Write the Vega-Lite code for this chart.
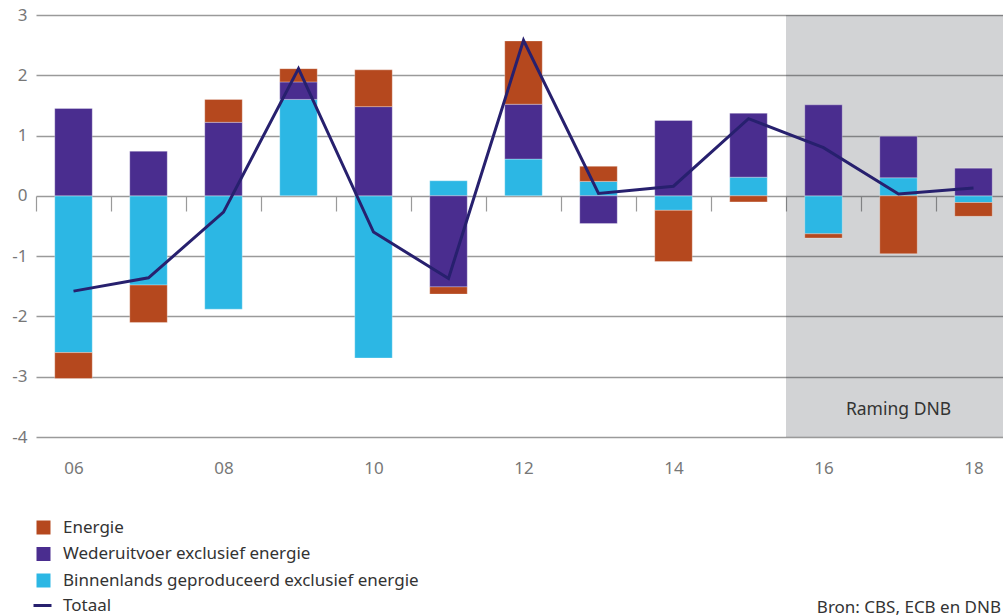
{
  "$schema": "https://vega.github.io/schema/vega-lite/v6.json",
  "width": 967,
  "height": 422,
  "autosize": "none",
  "padding": {"left": 36, "top": 15, "right": 0, "bottom": 178},
  "background": "white",
  "config": {
    "view": {"stroke": null},
    "font": "Noto Sans",
    "axis": {"labelFont": "Noto Sans"},
    "legend": {"labelFont": "Noto Sans"}
  },
  "title": {
    "text": "Bron: CBS, ECB en DNB",
    "orient": "bottom",
    "anchor": "end",
    "frame": "group",
    "fontSize": 17,
    "fontWeight": "normal",
    "color": "#333333",
    "baseline": "alphabetic",
    "offset": -1,
    "dx": -2
  },
  "datasets": {
    "bijdragen": [
      {"jaar": "06", "reeks": "Binnenlands geproduceerd exclusief energie", "waarde": -2.60},
      {"jaar": "06", "reeks": "Wederuitvoer exclusief energie", "waarde": 1.45},
      {"jaar": "06", "reeks": "Energie", "waarde": -0.43},
      {"jaar": "07", "reeks": "Binnenlands geproduceerd exclusief energie", "waarde": -1.48},
      {"jaar": "07", "reeks": "Wederuitvoer exclusief energie", "waarde": 0.74},
      {"jaar": "07", "reeks": "Energie", "waarde": -0.62},
      {"jaar": "08", "reeks": "Binnenlands geproduceerd exclusief energie", "waarde": -1.88},
      {"jaar": "08", "reeks": "Wederuitvoer exclusief energie", "waarde": 1.22},
      {"jaar": "08", "reeks": "Energie", "waarde": 0.38},
      {"jaar": "09", "reeks": "Binnenlands geproduceerd exclusief energie", "waarde": 1.60},
      {"jaar": "09", "reeks": "Wederuitvoer exclusief energie", "waarde": 0.29},
      {"jaar": "09", "reeks": "Energie", "waarde": 0.22},
      {"jaar": "10", "reeks": "Binnenlands geproduceerd exclusief energie", "waarde": -2.69},
      {"jaar": "10", "reeks": "Wederuitvoer exclusief energie", "waarde": 1.48},
      {"jaar": "10", "reeks": "Energie", "waarde": 0.61},
      {"jaar": "11", "reeks": "Binnenlands geproduceerd exclusief energie", "waarde": 0.25},
      {"jaar": "11", "reeks": "Wederuitvoer exclusief energie", "waarde": -1.51},
      {"jaar": "11", "reeks": "Energie", "waarde": -0.12},
      {"jaar": "12", "reeks": "Binnenlands geproduceerd exclusief energie", "waarde": 0.61},
      {"jaar": "12", "reeks": "Wederuitvoer exclusief energie", "waarde": 0.91},
      {"jaar": "12", "reeks": "Energie", "waarde": 1.05},
      {"jaar": "13", "reeks": "Binnenlands geproduceerd exclusief energie", "waarde": 0.24},
      {"jaar": "13", "reeks": "Wederuitvoer exclusief energie", "waarde": -0.46},
      {"jaar": "13", "reeks": "Energie", "waarde": 0.25},
      {"jaar": "14", "reeks": "Binnenlands geproduceerd exclusief energie", "waarde": -0.24},
      {"jaar": "14", "reeks": "Wederuitvoer exclusief energie", "waarde": 1.25},
      {"jaar": "14", "reeks": "Energie", "waarde": -0.85},
      {"jaar": "15", "reeks": "Binnenlands geproduceerd exclusief energie", "waarde": 0.31},
      {"jaar": "15", "reeks": "Wederuitvoer exclusief energie", "waarde": 1.06},
      {"jaar": "15", "reeks": "Energie", "waarde": -0.10},
      {"jaar": "16", "reeks": "Binnenlands geproduceerd exclusief energie", "waarde": -0.63},
      {"jaar": "16", "reeks": "Wederuitvoer exclusief energie", "waarde": 1.51},
      {"jaar": "16", "reeks": "Energie", "waarde": -0.07},
      {"jaar": "17", "reeks": "Binnenlands geproduceerd exclusief energie", "waarde": 0.30},
      {"jaar": "17", "reeks": "Wederuitvoer exclusief energie", "waarde": 0.69},
      {"jaar": "17", "reeks": "Energie", "waarde": -0.96},
      {"jaar": "18", "reeks": "Binnenlands geproduceerd exclusief energie", "waarde": -0.11},
      {"jaar": "18", "reeks": "Wederuitvoer exclusief energie", "waarde": 0.46},
      {"jaar": "18", "reeks": "Energie", "waarde": -0.23}
    ],
    "totaal": [
      {"jaar": "06", "waarde": -1.58},
      {"jaar": "07", "waarde": -1.36},
      {"jaar": "08", "waarde": -0.27},
      {"jaar": "09", "waarde": 2.11},
      {"jaar": "10", "waarde": -0.60},
      {"jaar": "11", "waarde": -1.37},
      {"jaar": "12", "waarde": 2.58},
      {"jaar": "13", "waarde": 0.04},
      {"jaar": "14", "waarde": 0.16},
      {"jaar": "15", "waarde": 1.28},
      {"jaar": "16", "waarde": 0.80},
      {"jaar": "17", "waarde": 0.03},
      {"jaar": "18", "waarde": 0.13}
    ],
    "raming": [
      {"jaar": "16"},
      {"jaar": "17"},
      {"jaar": "18"}
    ]
  },
  "encoding": {
    "x": {
      "field": "jaar",
      "type": "ordinal",
      "scale": {"range": [0, 975], "paddingInner": 0.5, "paddingOuter": 0.25},
      "axis": {
        "title": null,
        "orient": "bottom",
        "offset": -241,
        "domain": false,
        "grid": false,
        "ticks": true,
        "tickOffset": -37.5,
        "labelOffset": 37.5,
        "tickSize": 15,
        "tickColor": "#9a9a9a",
        "tickWidth": 1.2,
        "labelExpr": "parseInt(datum.value) % 2 == 0 ? datum.value : ''",
        "labelPadding": 249,
        "labelFontSize": 17,
        "labelColor": "#777777",
        "labelAngle": 0
      }
    }
  },
  "layer": [
    {
      "data": {"name": "raming"},
      "mark": {"type": "bar", "width": {"band": 2}, "fill": "#1e232d", "opacity": 0.2},
      "encoding": {
        "y": {"datum": 3},
        "y2": {"datum": -4}
      }
    },
    {
      "data": {"name": "bijdragen"},
      "transform": [
        {"calculate": "indexof(['Binnenlands geproduceerd exclusief energie', 'Wederuitvoer exclusief energie', 'Energie'], datum.reeks)", "as": "volgorde"}
      ],
      "mark": {"type": "bar", "stroke": "white", "strokeOpacity": 0.3, "strokeWidth": 1},
      "encoding": {
        "y": {
          "field": "waarde",
          "type": "quantitative",
          "stack": "zero",
          "scale": {"domain": [-4, 3], "nice": false, "zero": false},
          "axis": {
            "title": null,
            "values": [-4, -3, -2, -1, 0, 1, 2, 3],
            "labelExpr": "'' + datum.value",
            "domain": false,
            "ticks": false,
            "grid": true,
            "gridColor": "#9a9a9a",
            "gridWidth": 1.3,
            "labelFontSize": 17,
            "labelColor": "#777777",
            "labelPadding": 9
          }
        },
        "color": {
          "field": "reeks",
          "type": "nominal",
          "scale": {
            "domain": ["Energie", "Wederuitvoer exclusief energie", "Binnenlands geproduceerd exclusief energie"],
            "range": ["#b5481e", "#4a2d8f", "#2cb7e4"]
          },
          "legend": {
            "title": null,
            "orient": "none",
            "legendX": -1,
            "legendY": 504,
            "padding": 0,
            "symbolType": "square",
            "symbolSize": 196,
            "symbolStrokeWidth": 0,
            "labelFontSize": 17,
            "labelColor": "#333333",
            "labelOffset": 11,
            "labelLimit": 600,
            "rowPadding": 8.5
          }
        },
        "order": {"field": "volgorde", "type": "quantitative"}
      }
    },
    {
      "data": {"name": "totaal"},
      "mark": {"type": "line", "strokeWidth": 3},
      "encoding": {
        "y": {"field": "waarde", "type": "quantitative"},
        "stroke": {
          "datum": "Totaal",
          "scale": {"range": ["#27206e"]},
          "legend": {
            "title": null,
            "orient": "none",
            "legendX": -4,
            "legendY": 580,
            "padding": 0,
            "symbolType": "stroke",
            "symbolSize": 324,
            "symbolStrokeWidth": 3,
            "labelFontSize": 17,
            "labelColor": "#333333",
            "labelOffset": 10,
            "labelLimit": 600
          }
        }
      }
    },
    {
      "data": {"values": [{"jaar": "17", "tekst": "Raming DNB"}]},
      "mark": {"type": "text", "fontSize": 17.5, "color": "#333333", "baseline": "middle", "align": "center"},
      "encoding": {
        "y": {"datum": -3.55},
        "text": {"field": "tekst"}
      }
    }
  ]
}
